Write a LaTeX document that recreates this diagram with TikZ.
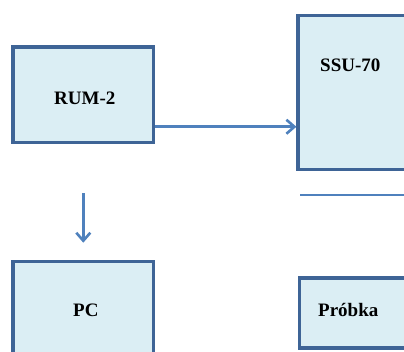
\documentclass[tikz,border=0pt]{standalone}
\usepackage{fontspec}
\setmainfont{Liberation Serif}
\usetikzlibrary{arrows.meta}
\definecolor{boxfill}{HTML}{DBEEF4}
\definecolor{boxline}{HTML}{3E6496}
\definecolor{wire}{HTML}{4F81BD}
\tikzset{
  unitbox/.style={draw=boxline, fill=boxfill, line width=3.2pt, rectangle,
    inner sep=0pt, minimum width=140.5pt},
  caption/.style={font=\bfseries\fontsize{19}{19}\selectfont, inner sep=0pt, anchor=base west},
  wirepath/.style={draw=wire, line width=2.6pt},
  conn/.style={wirepath, -{Straight Barb[length=8pt, width=14pt, line width=2.6pt]}},
}
\begin{document}
\begin{tikzpicture}[x=1pt, y=-1pt]
  \useasboundingbox (0,0) rectangle (404,351);
  \clip (0,0) rectangle (404,351);
  % blocks
  \node[unitbox, minimum height=95.5pt] (rum) at (83.25,94.75) {};
  \node[unitbox, minimum width=142pt, minimum height=153.8pt] (ssu) at (369,92.4) {};
  \node[unitbox, minimum height=96pt] (pc) at (83.25,309.5) {};
  \node[unitbox, minimum height=70pt] (probka) at (370,313) {};
  % block captions
  \node[caption] (trum) at (54,104) {RUM-2};
  \node[caption] (tssu) at (320,71) {SSU-70};
  \node[caption] (tpc) at (73,316.5) {PC};
  \node[caption] (tprobka) at (318,316) {Próbka};
  % connectors
  \draw[conn] ([yshift=-32pt]rum.east) coordinate (a1) -- (a1 -| ssu.west);
  \coordinate (d1) at (83.3,193.3);
  \coordinate (d2) at (83.3,242.7);
  \draw[conn] (d1) -- (d2);
  \coordinate (h1) at (300,195);
  \coordinate (h2) at (404,195);
  \draw[wirepath] (h1) -- (h2);
\end{tikzpicture}
\end{document}
